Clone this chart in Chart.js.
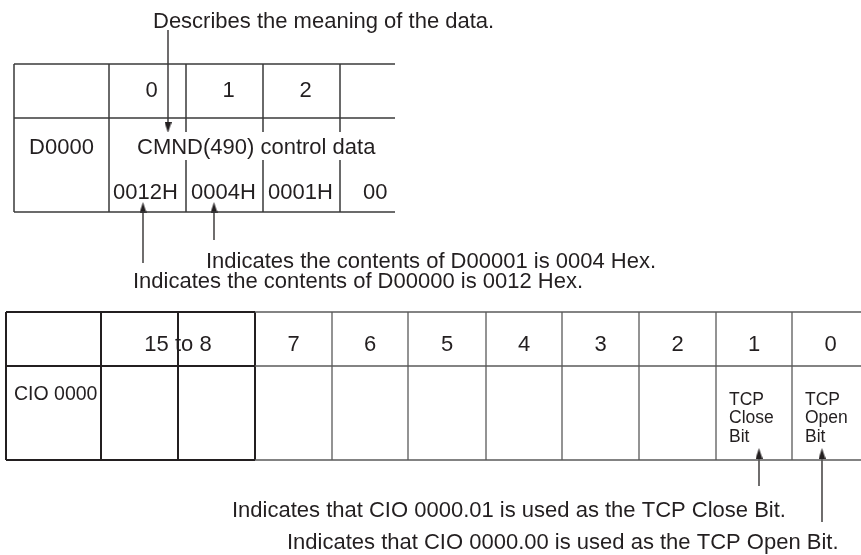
<!DOCTYPE html>
<html>
<head>
<meta charset="utf-8">
<script src="https://cdn.jsdelivr.net/npm/chart.js@4.4.1/dist/chart.umd.min.js"></script>
<style>
  html, body { margin: 0; padding: 0; background: #fff; }
  canvas { display: block; }
</style>
</head>
<body>
<canvas id="memoryChart" width="861" height="555"></canvas>
<script>
// ---- top table: DM area words ----
var wordCols = [14, 109, 186, 263, 340];
var wordRight = 395;
var wordRows = [64, 118, 212];
var wordHeaders = ['0', '1', '2'];
var wordName = 'D0000';
var wordMeaning = 'CMND(490) control data';
var wordValues = ['0012H', '0004H', '0001H', '00'];

// ---- bottom table: CIO bits ----
var bitCols = [6, 101, 178, 255, 332, 408, 486, 562, 639, 716, 792, 869];
var bitRows = [312, 366, 460];
var bitHeaders = ['15 to 8', '7', '6', '5', '4', '3', '2', '1', '0'];
var bitName = 'CIO 0000';
var bitCloseLabel = ['TCP', 'Close', 'Bit'];
var bitOpenLabel = ['TCP', 'Open', 'Bit'];

// ---- callouts ----
var noteTexts = [
  'Describes the meaning of the data.',
  'Indicates the contents of D00001 is 0004 Hex.',
  'Indicates the contents of D00000 is 0012 Hex.',
  'Indicates that CIO 0000.01 is used as the TCP Close Bit.',
  'Indicates that CIO 0000.00 is used as the TCP Open Bit.'
];
var noteX = [153, 206, 133, 232, 287];
var noteY = [28, 268, 288, 517, 549];

// arrows: x, tail y, tip y
var arrowX = [168, 143, 214, 759, 822];
var arrowTail = [30, 263, 240, 486, 522];
var arrowTip = [133, 202, 202, 448, 448];

var ink = '#231f20';
var inkGrey = '#5a5a5a';
var font = '"Liberation Sans", Arial, Helvetica, sans-serif';

function makeHead(up) {
  var c = document.createElement('canvas');
  c.width = 7; c.height = 11;
  var g = c.getContext('2d');
  g.fillStyle = ink;
  g.beginPath();
  if (up) { g.moveTo(3.5, 0); g.lineTo(7, 11); g.lineTo(0, 11); }
  else { g.moveTo(0, 0); g.lineTo(7, 0); g.lineTo(3.5, 11); }
  g.closePath();
  g.fill();
  return c;
}
var headUp = makeHead(true);
var headDown = makeHead(false);

var datasets = [];
function seg(x1, y1, x2, y2, color, width) {
  datasets.push({
    type: 'line',
    data: [{x: x1, y: y1}, {x: x2, y: y2}],
    borderColor: color,
    borderWidth: width,
    pointRadius: 0,
    fill: false,
    tension: 0
  });
}

// top table grid
wordRows.forEach(function (y) { seg(wordCols[0], y, wordRight, y, '#3a3a3a', 1.5); });
wordCols.forEach(function (x) { seg(x, wordRows[0], x, wordRows[2], '#3a3a3a', 1.5); });

// bottom table grid
bitRows.forEach(function (y) {
  seg(bitCols[0], y, bitCols[3], y, ink, 2);
  seg(bitCols[3], y, bitCols[bitCols.length - 1], y, inkGrey, 1.4);
});
bitCols.forEach(function (x, i) {
  seg(x, bitRows[0], x, bitRows[2], i <= 3 ? ink : inkGrey, i <= 3 ? 2 : 1.3);
});

// arrows
arrowX.forEach(function (x, i) {
  var up = arrowTip[i] < arrowTail[i];
  var headY = up ? arrowTip[i] + 5.5 : arrowTip[i] - 5.5;
  datasets.push({
    type: 'line',
    data: [{x: x, y: arrowTail[i]}, {x: x, y: headY}],
    borderColor: ink,
    borderWidth: 1.3,
    pointRadius: [0, 6],
    pointStyle: up ? headUp : headDown,
    fill: false,
    tension: 0
  });
});

var textPlugin = {
  id: 'diagramText',
  afterDatasetsDraw: function (chart) {
    var ctx = chart.ctx;
    var sx = chart.scales.x, sy = chart.scales.y;
    function px(v) { return sx.getPixelForValue(v); }
    function py(v) { return sy.getPixelForValue(v); }
    function put(t, x, y, size, align) {
      ctx.font = size + 'px ' + font;
      ctx.textAlign = align || 'left';
      ctx.textBaseline = 'alphabetic';
      ctx.fillStyle = ink;
      ctx.fillText(t, px(x), py(y));
    }
    ctx.save();

    // callouts
    noteTexts.forEach(function (t, i) { put(t, noteX[i], noteY[i], 22); });

    // top table
    wordHeaders.forEach(function (h, i) {
      put(h, (wordCols[i + 1] + wordCols[i + 2]) / 2 + 4, 97, 22, 'center');
    });
    put(wordName, (wordCols[0] + wordCols[1]) / 2, 154, 22, 'center');
    ctx.font = '22px ' + font;
    var mw = ctx.measureText(wordMeaning).width;
    ctx.fillStyle = '#fff';
    ctx.fillRect(px(wordCols[1] + 27), py(132), mw + 4, py(160) - py(132));
    put(wordMeaning, wordCols[1] + 28, 154, 22);
    var valX = [113, 191, 268, 363];
    wordValues.forEach(function (v, i) { put(v, valX[i], 199, 22); });

    // bottom table
    put(bitHeaders[0], (bitCols[1] + bitCols[3]) / 2, 351, 22, 'center');
    for (var i = 1; i < bitHeaders.length; i++) {
      put(bitHeaders[i], (bitCols[i + 2] + bitCols[i + 3]) / 2, 351, 22, 'center');
    }
    put(bitName, bitCols[0] + 8, 400, 19.5);
    var lineY = [405, 423, 442];
    bitCloseLabel.forEach(function (t, k) { put(t, bitCols[9] + 13, lineY[k], 17.5); });
    bitOpenLabel.forEach(function (t, k) { put(t, bitCols[10] + 13, lineY[k], 17.5); });

    ctx.restore();
  }
};

var ctx = document.getElementById('memoryChart').getContext('2d');
var chart = new Chart(ctx, {
  type: 'scatter',
  data: { datasets: datasets },
  options: {
    responsive: false,
    animation: false,
    events: [],
    layout: { padding: 0, autoPadding: false },
    plugins: { legend: { display: false }, tooltip: { enabled: false } },
    scales: {
      x: { type: 'linear', min: 0, max: 861, display: false },
      y: { type: 'linear', min: 0, max: 555, reverse: true, display: false }
    }
  },
  plugins: [textPlugin]
});
</script>
</body>
</html>
